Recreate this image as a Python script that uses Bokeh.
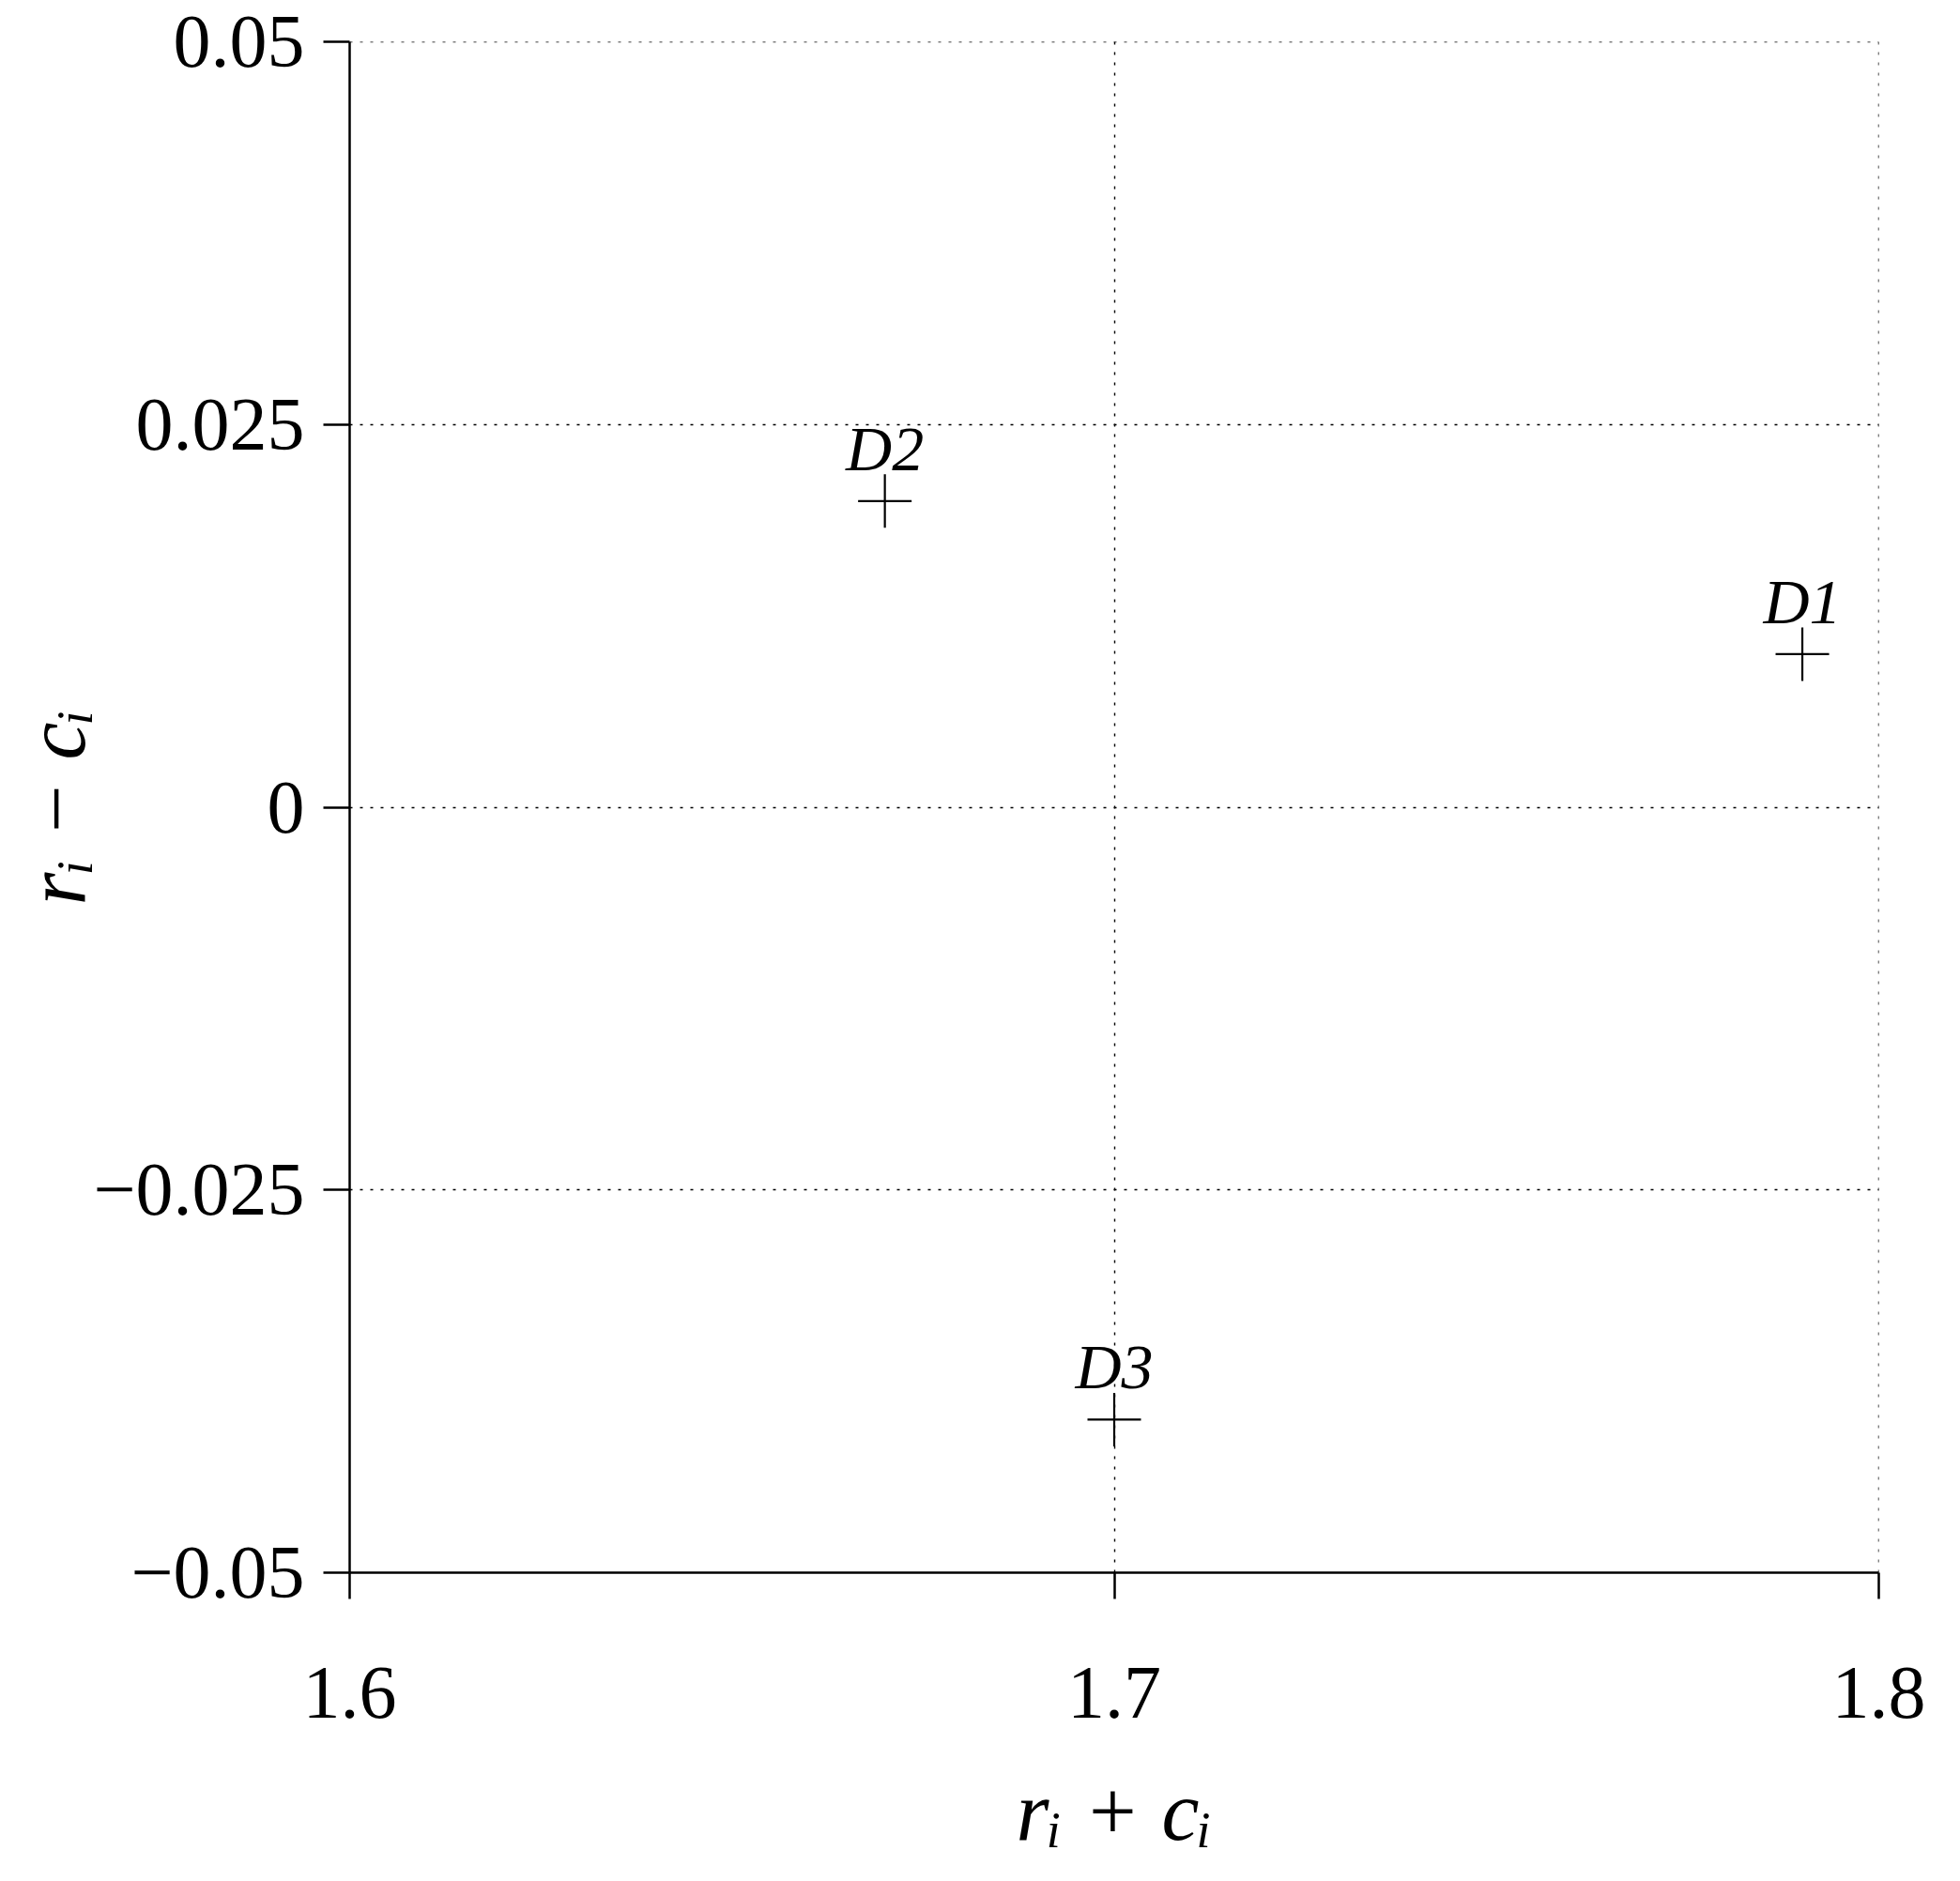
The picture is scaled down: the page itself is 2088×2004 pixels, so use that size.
from bokeh.plotting import figure
from bokeh.models import Range1d, FixedTicker, ColumnDataSource, Span
from bokeh.embed import file_html
from bokeh.resources import INLINE
from bokeh.core.properties import value

# ---- data ----
names = ["D1", "D2", "D3"]
r_plus_c = [1.79, 1.67, 1.70]
r_minus_c = [0.010, 0.020, -0.040]

x_ticks = [1.6, 1.7, 1.8]
x_tick_labels = ["1.6", "1.7", "1.8"]
y_ticks = [-0.05, -0.025, 0.0, 0.025, 0.05]
y_tick_labels = ["\u22120.05", "\u22120.025", "0", "0.025", "0.05"]

x_label = "r\u1d62 + c\u1d62"
y_label = "r\u1d62 \u2212 c\u1d62"

SERIF = "Liberation Serif"

src = ColumnDataSource(dict(x=r_plus_c, y=r_minus_c, name=names))

p = figure(width=2080, height=1996,
           x_range=Range1d(x_ticks[0], x_ticks[-1]),
           y_range=Range1d(y_ticks[0], y_ticks[-1]),
           output_backend="svg", toolbar_location=None,
           min_border_left=372, min_border_top=44,
           min_border_right=79, min_border_bottom=321)

p.outline_line_color = None
p.background_fill_color = "white"
p.border_fill_color = "white"

GRID = dict(line_color="black", line_dash="3 8", line_width=1.4)

# grids
for g in (p.xgrid, p.ygrid):
    g.grid_line_color = GRID["line_color"]
    g.grid_line_dash = GRID["line_dash"]
    g.grid_line_width = GRID["line_width"]
p.xgrid.ticker = FixedTicker(ticks=x_ticks)
p.ygrid.ticker = FixedTicker(ticks=y_ticks)

# grid lines at the far edges (top / right), which the grid skips
p.add_layout(Span(location=y_ticks[-1], dimension="width", **GRID))
p.add_layout(Span(location=x_ticks[-1], dimension="height", **GRID))

# axes
p.xaxis.ticker = FixedTicker(ticks=x_ticks)
p.yaxis.ticker = FixedTicker(ticks=y_ticks)
p.xaxis.major_label_overrides = dict(zip(x_ticks, x_tick_labels))
p.yaxis.major_label_overrides = dict(zip(y_ticks, y_tick_labels))

for ax in (p.xaxis, p.yaxis):
    ax.axis_line_color = "black"
    ax.axis_line_width = 2.5
    ax.major_tick_line_color = "black"
    ax.major_tick_line_width = 2.5
    ax.major_tick_out = 28
    ax.major_tick_in = 0
    ax.minor_tick_line_color = None
    ax.major_label_text_font = SERIF
    ax.major_label_text_font_size = "80px"
    ax.major_label_text_color = "black"
    ax.axis_label_text_font = SERIF
    ax.axis_label_text_font_style = "italic"
    ax.axis_label_text_font_size = "90px"
    ax.axis_label_text_color = "black"

p.xaxis.major_label_standoff = 73
p.yaxis.major_label_standoff = 20
p.xaxis.axis_label = x_label
p.yaxis.axis_label = y_label
p.xaxis.axis_label_standoff = 47
p.yaxis.axis_label_standoff = -13

# points
p.scatter("x", "y", source=src, marker="cross", size=57,
          line_color="black", line_width=2.2)

# point labels
p.text("x", "y", text="name", source=src, y_offset=-18,
       text_align="center", text_baseline="bottom",
       text_font=value(SERIF), text_font_style="italic",
       text_font_size="68px", text_color="black")

open("out.html", "w").write(file_html(p, INLINE))
